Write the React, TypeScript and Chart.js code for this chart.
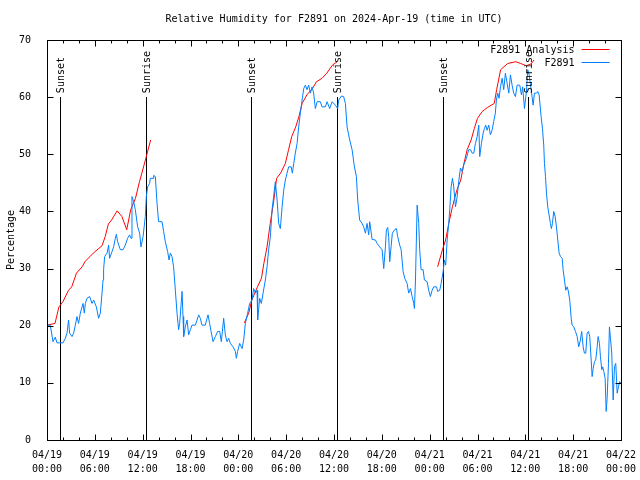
import React, { useEffect, useRef } from "react";
import { Chart, registerables } from "chart.js";

Chart.register(...registerables);

const TITLE = "Relative Humidity for F2891 on 2024-Apr-19 (time in UTC)";
const Y_LABEL = "Percentage";
const START_MONTH = "04";
const START_DAY = 19;
const seriesNames = ["F2891 Analysis", "F2891"];
const seriesColors = ["#ff0000", "#0080ff"];

// Observations: hours since 04/19 00:00 UTC, relative humidity (%)
const obsHours = [
  0.0, 0.41, 0.75, 1.04, 1.25, 1.58, 2.01, 2.3, 2.51, 2.71, 2.84, 3.14, 3.34, 3.55, 3.76, 3.96,
  4.18, 4.52, 4.68, 4.81, 5.02, 5.35, 5.65, 5.85, 6.19, 6.47, 6.69, 6.9, 7.03, 7.1, 7.23, 7.53,
  7.73, 7.85, 8.16, 8.36, 8.57, 8.7, 8.86, 9.2, 9.54, 9.82, 10.11, 10.36, 10.54, 10.66, 10.87,
  11.08, 11.37, 11.62, 11.79, 12.05, 12.33, 12.46, 12.62, 12.87, 12.96, 13.3, 13.38, 13.59,
  13.8, 14.0, 14.43, 14.63, 14.84, 15.13, 15.31, 15.47, 15.68, 15.88, 16.1, 16.31, 16.51,
  16.64, 16.94, 17.06, 17.14, 17.35, 17.57, 17.77, 17.98, 18.19, 18.61, 18.82, 19.02, 19.23,
  19.44, 19.86, 20.07, 20.2, 20.4, 20.58, 20.83, 21.12, 21.4, 21.66, 21.87, 22.16, 22.37, 22.58,
  22.79, 23.0, 23.34, 23.63, 23.75, 23.91, 24.17, 24.47, 24.67, 24.88, 25.17, 25.42, 25.72,
  25.92, 26.14, 26.35, 26.42, 26.68, 26.89, 27.1, 27.39, 27.6, 27.8, 28.02, 28.23, 28.43, 28.64,
  28.86, 29.06, 29.27, 29.49, 29.69, 29.9, 30.11, 30.31, 30.62, 30.78, 30.95, 31.15, 31.37,
  31.57, 31.78, 32.0, 32.2, 32.41, 32.62, 32.82, 33.04, 33.25, 33.45, 33.66, 33.88, 34.29, 34.5,
  34.92, 35.13, 35.46, 35.76, 36.17, 36.46, 36.59, 36.93, 37.21, 37.43, 37.64, 37.97, 38.27,
  38.56, 38.81, 38.97, 39.22, 39.52, 39.72, 39.94, 40.15, 40.35, 40.48, 40.78, 41.2, 41.41,
  41.73, 42.03, 42.24, 42.45, 42.57, 42.74, 42.86, 42.99, 43.16, 43.32, 43.61, 43.83, 43.99,
  44.24, 44.42, 44.67, 44.87, 45.17, 45.37, 45.59, 45.8, 46.0, 46.09, 46.22, 46.43, 46.63,
  46.75, 46.93, 47.18, 47.34, 47.68, 47.88, 48.09, 48.31, 48.51, 48.85, 49.01, 49.26, 49.44,
  49.69, 49.85, 50.01, 50.19, 50.39, 50.52, 50.69, 50.86, 51.02, 51.24, 51.45, 51.64, 51.86,
  52.07, 52.27, 52.61, 52.9, 53.12, 53.33, 53.53, 53.74, 53.96, 54.16, 54.28, 54.49, 54.71,
  54.87, 55.03, 55.21, 55.41, 55.62, 55.83, 56.03, 56.24, 56.37, 56.54, 56.71, 56.88, 57.09,
  57.29, 57.5, 57.71, 57.92, 58.13, 58.34, 58.54, 58.76, 58.97, 59.3, 59.51, 59.67, 59.89,
  60.14, 60.3, 60.48, 60.73, 60.98, 61.14, 61.39, 61.56, 61.73, 61.98, 62.15, 62.31, 62.4,
  62.53, 62.65, 62.81, 62.94, 63.15, 63.27, 63.4, 63.56, 63.74, 63.9, 64.07, 64.24, 64.41,
  64.62, 64.74, 64.91, 65.07, 65.24, 65.37, 65.57, 65.75, 65.87, 66.07, 66.29, 66.5, 66.7,
  66.91, 67.07, 67.25, 67.41, 67.58, 67.75, 67.92, 68.08, 68.26, 68.38, 68.51, 68.67, 68.83,
  69.01, 69.13, 69.3, 69.42, 69.59, 69.71, 69.84, 70.01, 70.14, 70.26, 70.43, 70.55, 70.68,
  70.84, 71.02, 71.18, 71.34, 71.52, 71.68, 71.84, 72.0,
];
const obsRH = [
  20.1, 20.1, 17.2, 18.0, 17.0, 17.0, 17.0, 17.8, 18.7, 21.0, 18.7, 18.1, 18.7, 20.1, 21.6, 20.4,
  22.2, 23.9, 22.2, 23.9, 24.8, 25.1, 23.9, 24.5, 23.3, 21.3, 22.2, 25.7, 28.0, 29.8, 32.1, 32.7,
  34.1, 31.8, 33.0, 33.8, 35.3, 36.0, 34.7, 33.3, 33.3, 34.1, 35.3, 35.9, 35.3, 42.6, 41.7,
  40.3, 37.3, 36.2, 33.8, 35.6, 39.1, 42.6, 44.3, 44.9, 45.8, 45.8, 46.3, 46.1,
  41.4, 38.2, 38.2, 36.5, 34.7, 33.0, 31.5, 32.7, 32.1, 30.3, 26.2, 22.2, 19.3,
  20.4, 26.0, 21.6, 18.1, 19.8, 21.0, 18.4, 19.3, 20.1, 20.1, 21.0, 21.9, 21.3,
  20.1, 20.1, 21.3, 21.9, 20.4, 19.0, 17.2, 18.1, 19.0, 19.0, 17.2, 21.3, 18.4, 17.2,
  17.8, 16.9, 16.3, 15.5, 14.3, 15.5, 16.9, 16.0, 17.5, 20.4, 22.2, 23.9, 24.5,
  26.5, 25.7, 26.2, 21.0, 24.8, 23.9, 25.7, 28.0, 30.3, 33.3, 35.6, 40.3, 42.6, 45.2,
  42.0, 37.9, 37.0, 40.8, 43.7, 45.5, 46.7, 47.8, 47.8, 46.7, 48.4, 50.2, 51.9,
  54.8, 57.2, 59.5, 61.5, 62.1, 61.3, 62.1, 60.7, 61.8, 60.7, 58.0, 59.2, 59.2, 58.3,
  58.3, 59.2, 58.0, 59.2, 58.6, 58.0, 59.5, 60.2, 60.1, 58.9, 54.8, 52.5, 50.8,
  47.8, 46.1, 42.0, 38.5, 37.9, 37.3, 36.2, 37.9, 35.9, 38.2, 35.1, 35.0, 34.4,
  33.8, 33.3, 30.0, 33.8, 36.8, 37.2, 35.6, 31.2, 33.8, 36.2, 36.8, 37.0, 35.6,
  34.1, 33.3, 29.5, 28.3, 27.4, 25.7, 26.5, 25.1, 23.9, 23.0, 28.0, 41.1, 37.9,
  33.3, 29.8, 29.8, 28.0, 27.7, 26.2, 25.1, 26.2, 26.8, 26.8, 26.0, 26.2, 27.4,
  29.5, 31.5, 30.6, 35.0, 37.9, 40.3, 44.3, 45.8, 44.3, 40.8, 42.6, 45.2, 47.6,
  47.0, 48.1, 49.3, 50.8, 50.8, 50.2, 50.2, 51.9, 53.1, 55.1, 49.6, 51.9, 53.7,
  54.5, 55.1, 54.2, 55.1, 53.4, 54.2, 55.7, 57.2, 59.5, 60.7, 59.8, 61.8, 63.3,
  61.3, 64.2, 62.5, 60.7, 63.9, 62.1, 60.7, 60.1, 62.1, 62.1, 60.4, 61.8, 58.0,
  61.0, 64.8, 63.9, 61.3, 58.6, 60.7, 60.7, 61.0, 60.4, 56.6, 54.5, 51.6, 48.4,
  46.1, 43.2, 40.8, 39.7, 37.9, 37.0, 37.9, 40.0, 39.1, 37.3, 35.0, 32.7, 32.1,
  31.8, 29.8, 28.0, 26.2, 26.8, 26.2, 24.5, 21.3, 20.1, 19.8, 19.0, 18.1, 16.3,
  17.5, 19.0, 16.3, 15.2, 15.2, 18.7, 19.0, 18.1, 14.0, 11.1, 12.5, 13.7, 14.0,
  16.3, 18.1, 16.9, 14.6, 12.3, 12.8, 12.0, 10.8, 5.0, 7.3, 13.4, 19.8, 17.8,
  15.2, 7.0, 12.8, 13.4, 8.2, 9.3, 10.2, 9.9,
];

// Analysis: three separate runs (hours, RH %)
const anaHours = [
  [0.0, 1.0, 1.5, 2.0, 2.7, 3.1, 3.7, 4.4, 4.8, 5.4, 5.8, 6.9, 7.3, 7.7, 8.1, 8.8, 9.4, 10.0, 10.5, 11.1, 11.6, 11.9, 12.4, 13.0],
  [24.75, 25.3, 25.7, 26.4, 26.9, 27.2, 27.6, 28.0, 28.4, 28.8, 29.3, 29.9, 30.3, 30.7, 31.2, 31.6, 32.0, 32.6, 33.3, 33.8, 34.5, 35.1, 35.8, 36.4],
  [49.0, 49.6, 50.0, 50.4, 50.85, 51.4, 51.9, 52.3, 52.7, 53.2, 53.6, 54.0, 54.6, 55.25, 56.1, 56.4, 56.9, 57.8, 58.8, 59.4, 60.1, 60.7, 61.1],
];
const anaRH = [
  [20.1, 20.4, 23.3, 24.2, 26.2, 26.8, 29.2, 30.3, 31.3, 32.1, 32.7, 34.0, 35.6, 37.8, 38.5, 40.1, 39.1, 36.8, 40.3, 42.3, 45.2, 46.7, 49.3, 52.5],
  [20.5, 22.2, 24.5, 26.8, 28.3, 30.9, 33.8, 37.9, 41.4, 45.8, 46.7, 48.4, 50.8, 53.1, 54.8, 56.6, 58.9, 60.4, 61.5, 62.7, 63.3, 64.2, 65.6, 66.2],
  [30.3, 33.3, 35.0, 37.9, 40.8, 43.7, 45.5, 48.4, 50.8, 52.5, 54.5, 56.3, 57.5, 58.2, 58.9, 61.3, 64.8, 65.9, 66.2, 65.9, 65.5, 65.8, 66.5],
];

const sunHours = [1.58, 12.42, 25.58, 36.38, 49.66, 60.33];
const sunLabels = ["Sunset", "Sunrise", "Sunset", "Sunrise", "Sunset", "Sunrise"];
const sunLineTop = 60;

const X_MIN = 0;
const X_MAX = 72;
const X_STEP = 6;
const X_MINOR_STEP = 2;
const Y_MIN = 0;
const Y_MAX = 70;
const Y_STEP = 10;

const FONT_FAMILY = "'DejaVu Sans Mono', 'Liberation Mono', monospace";
const FONT = `10px ${FONT_FAMILY}`;

const pad2 = (n: number) => (n < 10 ? "0" + n : "" + n);

const gnuplotPlugin = {
  id: "gnuplotDecor",
  beforeDatasetsDraw(chart: any) {
    const { ctx } = chart;
    const x = chart.scales.x;
    const y = chart.scales.y;
    ctx.save();
    ctx.strokeStyle = "#000";
    ctx.lineWidth = 1;
    sunHours.forEach((h) => {
      const px = Math.round(x.getPixelForValue(h)) + 0.5;
      ctx.beginPath();
      ctx.moveTo(px, y.getPixelForValue(Y_MIN));
      ctx.lineTo(px, Math.round(y.getPixelForValue(sunLineTop)));
      ctx.stroke();
    });
    ctx.restore();
  },
  afterDraw(chart: any) {
    const { ctx, chartArea } = chart;
    const x = chart.scales.x;
    const y = chart.scales.y;
    const L = Math.round(chartArea.left) + 0.5;
    const R = Math.round(chartArea.right) + 0.5;
    const T = Math.round(chartArea.top) + 0.5;
    const B = Math.round(chartArea.bottom) + 0.5;
    ctx.save();
    ctx.strokeStyle = "#000";
    ctx.lineWidth = 1;
    ctx.strokeRect(L, T, R - L, B - T);

    const MAJOR = 6;
    const MINOR = 3;
    ctx.beginPath();
    for (let v = X_MIN; v <= X_MAX + 1e-9; v += X_MINOR_STEP) {
      const isMajor = Math.abs(v / X_STEP - Math.round(v / X_STEP)) < 1e-6;
      const len = isMajor ? MAJOR : MINOR;
      const px = Math.round(x.getPixelForValue(v)) + 0.5;
      ctx.moveTo(px, B);
      ctx.lineTo(px, B - len);
      ctx.moveTo(px, T);
      ctx.lineTo(px, T + len);
    }
    y.ticks.forEach((t: any) => {
      const py = Math.round(y.getPixelForValue(t.value)) + 0.5;
      ctx.moveTo(L, py);
      ctx.lineTo(L + MAJOR, py);
      ctx.moveTo(R, py);
      ctx.lineTo(R - MAJOR, py);
    });
    ctx.stroke();

    ctx.fillStyle = "#000";
    ctx.font = FONT;

    sunHours.forEach((h, i) => {
      const px = Math.round(x.getPixelForValue(h)) + 1;
      const py = y.getPixelForValue(sunLineTop) - 4;
      ctx.save();
      ctx.translate(px, py);
      ctx.rotate(-Math.PI / 2);
      ctx.textAlign = "left";
      ctx.textBaseline = "middle";
      ctx.fillText(sunLabels[i], 0, 0);
      ctx.restore();
    });

    // Legend (inside, top right)
    const legendTextRight = R - 47;
    const lineX0 = R - 40;
    const lineX1 = R - 12;
    const rows = [50, 63];
    ctx.textAlign = "right";
    ctx.textBaseline = "middle";
    seriesNames.forEach((name, i) => {
      ctx.fillStyle = "#000";
      ctx.fillText(name, legendTextRight, rows[i]);
      ctx.strokeStyle = seriesColors[i];
      ctx.beginPath();
      ctx.moveTo(lineX0, rows[i] - 0.5);
      ctx.lineTo(lineX1, rows[i] - 0.5);
      ctx.stroke();
    });

    // Title
    ctx.fillStyle = "#000";
    ctx.textAlign = "center";
    ctx.textBaseline = "middle";
    ctx.fillText(TITLE, (chartArea.left + chartArea.right) / 2, 19);

    // Y axis label
    ctx.save();
    ctx.translate(11, (chartArea.top + chartArea.bottom) / 2);
    ctx.rotate(-Math.PI / 2);
    ctx.textAlign = "center";
    ctx.textBaseline = "middle";
    ctx.fillText(Y_LABEL, 0, 0);
    ctx.restore();

    ctx.restore();
  },
};

export default function App() {
  const canvasRef = useRef<HTMLCanvasElement | null>(null);

  useEffect(() => {
    const canvas = canvasRef.current;
    if (!canvas) return;

    const obsData = obsHours.map((h, i) => ({ x: h, y: obsRH[i] }));
    const anaData: { x: number; y: number | null }[] = [];
    anaHours.forEach((seg, s) => {
      if (s > 0) {
        const prev = anaHours[s - 1];
        anaData.push({ x: (prev[prev.length - 1] + seg[0]) / 2, y: null });
      }
      seg.forEach((h, i) => anaData.push({ x: h, y: anaRH[s][i] }));
    });

    const chart = new Chart(canvas, {
      type: "line",
      data: {
        datasets: [
          {
            label: seriesNames[1],
            data: obsData,
            borderColor: seriesColors[1],
            backgroundColor: seriesColors[1],
            borderWidth: 1,
            pointRadius: 0,
            tension: 0,
            fill: false,
          },
          {
            label: seriesNames[0],
            data: anaData as any,
            borderColor: seriesColors[0],
            backgroundColor: seriesColors[0],
            borderWidth: 1,
            pointRadius: 0,
            tension: 0,
            fill: false,
            spanGaps: false,
          },
        ],
      },
      options: {
        animation: false,
        responsive: false,
        maintainAspectRatio: false,
        events: [],
        layout: { padding: { top: 40, right: 19, left: 0, bottom: 0 } },
        plugins: {
          legend: { display: false },
          tooltip: { enabled: false },
          title: { display: false },
        },
        scales: {
          x: {
            type: "linear",
            min: X_MIN,
            max: X_MAX,
            grid: { display: false },
            border: { display: false },
            ticks: {
              stepSize: X_STEP,
              autoSkip: false,
              maxRotation: 0,
              minRotation: 0,
              color: "#000",
              padding: 1,
              font: { family: FONT_FAMILY, size: 10, lineHeight: 1.35 },
              callback: (v: any) => {
                const val = Number(v);
                const day = START_DAY + Math.floor(val / 24);
                const hr = Math.round(val % 24);
                return [`${START_MONTH}/${pad2(day)}`, `${pad2(hr)}:00`];
              },
            },
            afterFit: (s: any) => {
              s.height = 40;
              s.paddingLeft = 0;
              s.paddingRight = 0;
            },
          },
          y: {
            type: "linear",
            min: Y_MIN,
            max: Y_MAX,
            grid: { display: false },
            border: { display: false },
            ticks: {
              stepSize: Y_STEP,
              color: "#000",
              padding: 8,
              font: { family: FONT_FAMILY, size: 10 },
            },
            afterFit: (s: any) => {
              s.width = 47;
              s.paddingTop = 0;
              s.paddingBottom = 0;
            },
          },
        },
      },
      plugins: [gnuplotPlugin],
    });

    return () => {
      chart.destroy();
    };
  }, []);

  return (
    <div style={{ position: "fixed", left: 0, top: 0, width: 640, height: 480, background: "#fff" }}>
      <canvas ref={canvasRef} width={640} height={480} style={{ display: "block" }} />
    </div>
  );
}
